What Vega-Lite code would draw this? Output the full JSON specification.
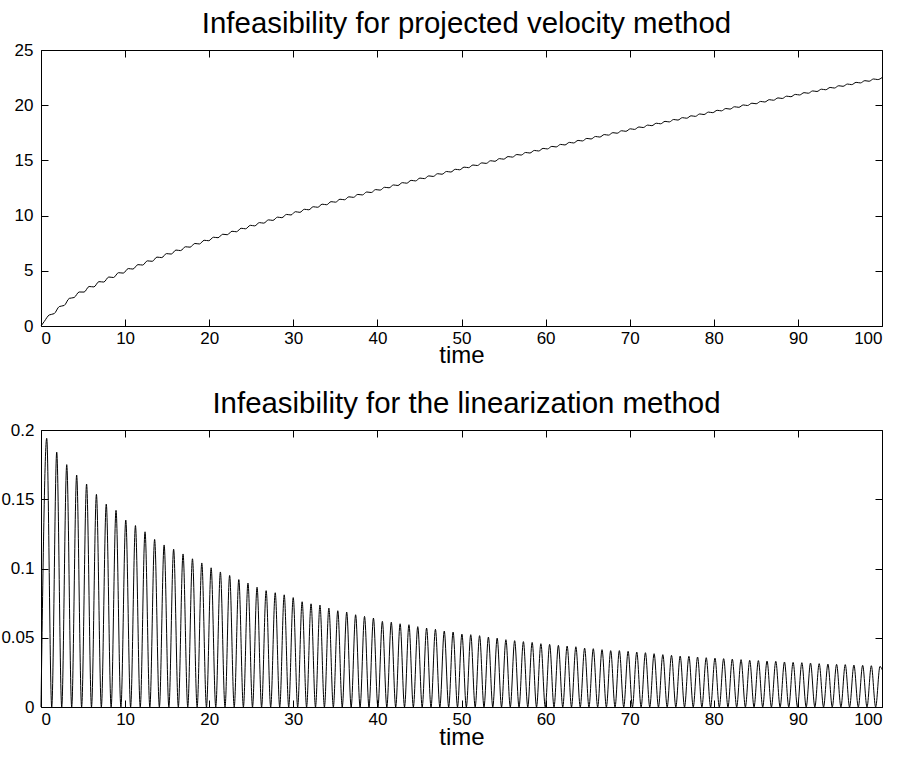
{
  "$schema": "https://vega.github.io/schema/vega-lite/v6.json",
  "padding": {"left": 0, "top": 8, "right": 5, "bottom": 5},
  "spacing": 104,
  "bounds": "flush",
  "background": "white",
  "config": {
    "view": {"stroke": "black", "strokeWidth": 1},
    "font": "Liberation Sans",
    "axis": {"grid": false, "domain": false, "tickColor": "black", "tickSize": -7, "labelColor": "black", "labelFontSize": 17, "labelFont": "Liberation Sans", "titleColor": "black", "titleFontSize": 24, "titleFontWeight": "normal", "titleFont": "Liberation Sans"},
    "title": {"fontSize": 29.4, "fontWeight": "normal", "color": "black", "font": "Liberation Sans", "baseline": "alphabetic", "offset": 2, "anchor": "middle", "dx": 5}
  },
  "vconcat": [
    {
      "width": 841,
      "height": 276,
      "title": "Infeasibility for projected velocity method",
      "data": {"values": [
        {"t":0,"v":0},{"t":0.38,"v":0.4},{"t":0.98,"v":1.0},{"t":1.57,"v":1.12},{"t":2.17,"v":1.76},{"t":2.76,"v":1.86},{"t":3.36,"v":2.5},{"t":3.94,"v":2.58},{"t":4.54,"v":3.08},
        {"t":5.12,"v":3.073},{"t":5.72,"v":3.577},{"t":6.29,"v":3.542},{"t":6.89,"v":4.018},{"t":7.46,"v":3.982},{"t":8.06,"v":4.436},{"t":8.62,"v":4.393},{"t":9.22,"v":4.829},
        {"t":9.78,"v":4.792},{"t":10.38,"v":5.2},{"t":10.93,"v":5.158},{"t":11.53,"v":5.558},{"t":12.09,"v":5.522},{"t":12.65,"v":5.9},{"t":13.23,"v":5.861},{"t":13.79,"v":6.239},
        {"t":14.36,"v":6.197},{"t":14.92,"v":6.557},{"t":15.49,"v":6.517},{"t":16.05,"v":6.877},{"t":16.61,"v":6.831},{"t":17.17,"v":7.177},{"t":17.73,"v":7.141},{"t":18.29,"v":7.475},
        {"t":18.84,"v":7.431},{"t":19.4,"v":7.763},{"t":19.95,"v":7.726},{"t":20.51,"v":8.04},{"t":21.05,"v":7.997},{"t":21.61,"v":8.311},{"t":22.15,"v":8.268},{"t":22.71,"v":8.582},
        {"t":23.24,"v":8.536},{"t":23.8,"v":8.85},{"t":24.33,"v":8.805},{"t":24.89,"v":9.119},{"t":25.41,"v":9.07},{"t":25.97,"v":9.364},{"t":26.49,"v":9.318},{"t":27.05,"v":9.612},
        {"t":27.57,"v":9.566},{"t":28.13,"v":9.86},{"t":28.64,"v":9.812},{"t":29.2,"v":10.106},{"t":29.73,"v":10.058},{"t":30.25,"v":10.352},{"t":30.79,"v":10.296},{"t":31.31,"v":10.572},
        {"t":31.85,"v":10.526},{"t":32.37,"v":10.802},{"t":32.91,"v":10.756},{"t":33.43,"v":11.032},{"t":33.97,"v":10.985},{"t":34.49,"v":11.261},{"t":35.03,"v":11.217},{"t":35.55,"v":11.483},
        {"t":36.09,"v":11.435},{"t":36.61,"v":11.701},{"t":37.15,"v":11.653},{"t":37.67,"v":11.919},{"t":38.21,"v":11.872},{"t":38.73,"v":12.138},{"t":39.27,"v":12.09},{"t":39.79,"v":12.356},
        {"t":40.33,"v":12.309},{"t":40.85,"v":12.565},{"t":41.39,"v":12.519},{"t":41.91,"v":12.775},{"t":42.44,"v":12.727},{"t":42.96,"v":12.983},{"t":43.49,"v":12.935},{"t":44.01,"v":13.191},
        {"t":44.54,"v":13.142},{"t":45.06,"v":13.398},{"t":45.59,"v":13.348},{"t":46.11,"v":13.596},{"t":46.64,"v":13.547},{"t":47.16,"v":13.795},{"t":47.69,"v":13.747},{"t":48.21,"v":13.995},
        {"t":48.74,"v":13.946},{"t":49.26,"v":14.194},{"t":49.79,"v":14.149},{"t":50.31,"v":14.389},{"t":50.84,"v":14.342},{"t":51.36,"v":14.582},{"t":51.89,"v":14.536},{"t":52.41,"v":14.776},
        {"t":52.94,"v":14.729},{"t":53.46,"v":14.969},{"t":53.98,"v":14.92},{"t":54.5,"v":15.16},{"t":55.02,"v":15.113},{"t":55.54,"v":15.347},{"t":56.06,"v":15.298},{"t":56.58,"v":15.532},
        {"t":57.1,"v":15.483},{"t":57.62,"v":15.717},{"t":58.14,"v":15.668},{"t":58.66,"v":15.902},{"t":59.18,"v":15.853},{"t":59.7,"v":16.087},{"t":60.22,"v":16.039},{"t":60.74,"v":16.269},
        {"t":61.26,"v":16.219},{"t":61.78,"v":16.449},{"t":62.3,"v":16.4},{"t":62.82,"v":16.63},{"t":63.34,"v":16.581},{"t":63.86,"v":16.811},{"t":64.38,"v":16.762},{"t":64.9,"v":16.992},
        {"t":65.41,"v":16.941},{"t":65.93,"v":17.165},{"t":66.45,"v":17.115},{"t":66.97,"v":17.339},{"t":67.48,"v":17.288},{"t":68.0,"v":17.512},{"t":68.51,"v":17.461},{"t":69.03,"v":17.685},
        {"t":69.55,"v":17.636},{"t":70.07,"v":17.86},{"t":70.58,"v":17.808},{"t":71.1,"v":18.028},{"t":71.61,"v":17.977},{"t":72.13,"v":18.197},{"t":72.64,"v":18.146},{"t":73.16,"v":18.366},
        {"t":73.68,"v":18.316},{"t":74.2,"v":18.536},{"t":74.71,"v":18.485},{"t":75.23,"v":18.705},{"t":75.74,"v":18.653},{"t":76.26,"v":18.871},{"t":76.78,"v":18.821},{"t":77.3,"v":19.039},
        {"t":77.81,"v":18.988},{"t":78.33,"v":19.206},{"t":78.84,"v":19.155},{"t":79.36,"v":19.373},{"t":79.88,"v":19.326},{"t":80.4,"v":19.538},{"t":80.91,"v":19.487},{"t":81.43,"v":19.699},
        {"t":81.94,"v":19.647},{"t":82.46,"v":19.859},{"t":82.98,"v":19.809},{"t":83.5,"v":20.021},{"t":84.01,"v":19.97},{"t":84.53,"v":20.182},{"t":85.04,"v":20.131},{"t":85.56,"v":20.341},
        {"t":86.07,"v":20.29},{"t":86.59,"v":20.5},{"t":87.11,"v":20.45},{"t":87.63,"v":20.66},{"t":88.14,"v":20.609},{"t":88.66,"v":20.819},{"t":89.17,"v":20.767},{"t":89.69,"v":20.977},
        {"t":90.21,"v":20.927},{"t":90.73,"v":21.135},{"t":91.24,"v":21.084},{"t":91.76,"v":21.292},{"t":92.27,"v":21.241},{"t":92.79,"v":21.449},{"t":93.31,"v":21.399},{"t":93.83,"v":21.607},
        {"t":94.34,"v":21.555},{"t":94.86,"v":21.763},{"t":95.37,"v":21.711},{"t":95.89,"v":21.915},{"t":96.4,"v":21.864},{"t":96.92,"v":22.068},{"t":97.44,"v":22.018},{"t":97.96,"v":22.222},
        {"t":98.47,"v":22.17},{"t":98.99,"v":22.374},{"t":99.5,"v":22.322},{"t":100,"v":22.5}
      ]},
      "layer": [
        {
          "mark": {"type": "line", "color": "black", "strokeWidth": 1, "interpolate": "monotone"},
          "encoding": {
            "x": {"field": "t", "type": "quantitative", "scale": {"domain": [0, 100], "nice": false, "zero": false},
                  "axis": {"orient": "bottom", "values": [0,10,20,30,40,50,60,70,80,90,100], "title": "time", "labelPadding": 11, "titleY": 36, "titleBaseline": "alphabetic"}},
            "y": {"field": "v", "type": "quantitative", "scale": {"domain": [0, 25], "nice": false},
                  "axis": {"orient": "left", "values": [0,5,10,15,20,25], "title": null, "labelPadding": 15}}
          }
        },
        {
          "mark": {"type": "line", "opacity": 0},
          "encoding": {
            "x": {"field": "t", "type": "quantitative", "axis": {"orient": "top", "values": [0,10,20,30,40,50,60,70,80,90,100], "labels": false, "title": null}},
            "y": {"field": "v", "type": "quantitative", "axis": {"orient": "right", "values": [0,5,10,15,20,25], "labels": false, "title": null}}
          }
        }
      ],
      "resolve": {"axis": {"x": "independent", "y": "independent"}}
    },
    {
      "width": 841,
      "height": 277,
      "title": "Infeasibility for the linearization method",
      "data": {"values": [
        {"t":0,"v":0},{"t":0.68,"v":0.194},{"t":1.275,"v":0},{"t":1.87,"v":0.184},{"t":2.465,"v":0},{"t":3.06,"v":0.175},{"t":3.65,"v":0},{"t":4.24,"v":0.1675},{"t":4.83,"v":0},
        {"t":5.42,"v":0.161},{"t":6.005,"v":0},{"t":6.59,"v":0.1535},{"t":7.175,"v":0},{"t":7.76,"v":0.1465},{"t":8.34,"v":0},{"t":8.92,"v":0.142},{"t":9.5,"v":0},
        {"t":10.08,"v":0.135},{"t":10.655,"v":0},{"t":11.23,"v":0.131},{"t":11.8,"v":0},{"t":12.37,"v":0.1265},{"t":12.94,"v":0},{"t":13.51,"v":0.121},{"t":14.075,"v":0},
        {"t":14.64,"v":0.117},{"t":15.205,"v":0},{"t":15.77,"v":0.114},{"t":16.33,"v":0},{"t":16.89,"v":0.1105},{"t":17.45,"v":0},{"t":18.01,"v":0.107},{"t":18.565,"v":0},
        {"t":19.12,"v":0.104},{"t":19.675,"v":0},{"t":20.23,"v":0.1005},{"t":20.78,"v":0},{"t":21.33,"v":0.0975},{"t":21.88,"v":0},{"t":22.43,"v":0.095},{"t":22.975,"v":0},
        {"t":23.52,"v":0.092},{"t":24.065,"v":0},{"t":24.61,"v":0.0895},{"t":25.15,"v":0},{"t":25.69,"v":0.0865},{"t":26.23,"v":0},{"t":26.77,"v":0.084},{"t":27.31,"v":0},
        {"t":27.85,"v":0.0825},{"t":28.385,"v":0},{"t":28.92,"v":0.081},{"t":29.455,"v":0},{"t":29.99,"v":0.079},{"t":30.52,"v":0},{"t":31.05,"v":0.076},{"t":31.58,"v":0},
        {"t":32.11,"v":0.0745},{"t":32.64,"v":0},{"t":33.17,"v":0.0736},{"t":33.7,"v":0},{"t":34.23,"v":0.0714},{"t":34.76,"v":0},{"t":35.29,"v":0.0695},{"t":35.82,"v":0},
        {"t":36.35,"v":0.0685},{"t":36.88,"v":0},{"t":37.41,"v":0.0666},{"t":37.94,"v":0},{"t":38.47,"v":0.0654},{"t":39.0,"v":0},{"t":39.53,"v":0.0642},{"t":40.06,"v":0},
        {"t":40.59,"v":0.0618},{"t":41.12,"v":0},{"t":41.65,"v":0.0612},{"t":42.175,"v":0},{"t":42.7,"v":0.0601},{"t":43.225,"v":0},{"t":43.75,"v":0.0594},{"t":44.275,"v":0},
        {"t":44.8,"v":0.058},{"t":45.325,"v":0},{"t":45.85,"v":0.057},{"t":46.375,"v":0},{"t":46.9,"v":0.0561},{"t":47.425,"v":0},{"t":47.95,"v":0.0548},{"t":48.475,"v":0},
        {"t":49.0,"v":0.0541},{"t":49.525,"v":0},{"t":50.05,"v":0.0526},{"t":50.575,"v":0},{"t":51.1,"v":0.0522},{"t":51.625,"v":0},{"t":52.15,"v":0.0515},{"t":52.675,"v":0},
        {"t":53.2,"v":0.0505},{"t":53.72,"v":0},{"t":54.24,"v":0.0497},{"t":54.76,"v":0},{"t":55.28,"v":0.0486},{"t":55.8,"v":0},{"t":56.32,"v":0.0479},{"t":56.84,"v":0},
        {"t":57.36,"v":0.0472},{"t":57.88,"v":0},{"t":58.4,"v":0.0466},{"t":58.92,"v":0},{"t":59.44,"v":0.0457},{"t":59.96,"v":0},{"t":60.48,"v":0.0452},{"t":61.0,"v":0},
        {"t":61.52,"v":0.0445},{"t":62.04,"v":0},{"t":62.56,"v":0.044},{"t":63.08,"v":0},{"t":63.6,"v":0.0435},{"t":64.12,"v":0},{"t":64.64,"v":0.0425},{"t":65.155,"v":0},
        {"t":65.67,"v":0.0421},{"t":66.19,"v":0},{"t":66.71,"v":0.0414},{"t":67.225,"v":0},{"t":67.74,"v":0.0407},{"t":68.255,"v":0},{"t":68.77,"v":0.0407},{"t":69.29,"v":0},
        {"t":69.81,"v":0.0402},{"t":70.325,"v":0},{"t":70.84,"v":0.0397},{"t":71.355,"v":0},{"t":71.87,"v":0.0392},{"t":72.385,"v":0},{"t":72.9,"v":0.0385},{"t":73.42,"v":0},
        {"t":73.94,"v":0.0378},{"t":74.455,"v":0},{"t":74.97,"v":0.0373},{"t":75.485,"v":0},{"t":76.0,"v":0.0368},{"t":76.52,"v":0},{"t":77.04,"v":0.0366},{"t":77.555,"v":0},
        {"t":78.07,"v":0.0361},{"t":78.585,"v":0},{"t":79.1,"v":0.0356},{"t":79.62,"v":0},{"t":80.14,"v":0.0353},{"t":80.655,"v":0},{"t":81.17,"v":0.0349},{"t":81.685,"v":0},
        {"t":82.2,"v":0.0346},{"t":82.72,"v":0},{"t":83.24,"v":0.0342},{"t":83.755,"v":0},{"t":84.27,"v":0.0337},{"t":84.785,"v":0},{"t":85.3,"v":0.0335},{"t":85.815,"v":0},
        {"t":86.33,"v":0.0332},{"t":86.85,"v":0},{"t":87.37,"v":0.033},{"t":87.885,"v":0},{"t":88.4,"v":0.0325},{"t":88.915,"v":0},{"t":89.43,"v":0.0322},{"t":89.95,"v":0},
        {"t":90.47,"v":0.032},{"t":90.985,"v":0},{"t":91.5,"v":0.0317},{"t":92.015,"v":0},{"t":92.53,"v":0.0313},{"t":93.05,"v":0},{"t":93.57,"v":0.031},{"t":94.085,"v":0},
        {"t":94.6,"v":0.0308},{"t":95.115,"v":0},{"t":95.63,"v":0.0306},{"t":96.145,"v":0},{"t":96.66,"v":0.0303},{"t":97.18,"v":0},{"t":97.7,"v":0.0301},{"t":98.215,"v":0},
        {"t":98.73,"v":0.0298},{"t":99.245,"v":0},{"t":99.76,"v":0.0293},{"t":100,"v":0.027}
      ]},
      "layer": [
        {
          "mark": {"type": "line", "color": "black", "strokeWidth": 1, "interpolate": "monotone"},
          "encoding": {
            "x": {"field": "t", "type": "quantitative", "scale": {"domain": [0, 100], "nice": false, "zero": false},
                  "axis": {"orient": "bottom", "values": [0,10,20,30,40,50,60,70,80,90,100], "title": "time", "labelPadding": 11, "titleY": 37, "titleBaseline": "alphabetic"}},
            "y": {"field": "v", "type": "quantitative", "scale": {"domain": [0, 0.2], "nice": false},
                  "axis": {"orient": "left", "values": [0,0.05,0.1,0.15,0.2], "format": "~g", "title": null, "labelPadding": 14}}
          }
        },
        {
          "mark": {"type": "line", "opacity": 0},
          "encoding": {
            "x": {"field": "t", "type": "quantitative", "axis": {"orient": "top", "values": [0,10,20,30,40,50,60,70,80,90,100], "labels": false, "title": null}},
            "y": {"field": "v", "type": "quantitative", "axis": {"orient": "right", "values": [0,0.05,0.1,0.15,0.2], "labels": false, "title": null}}
          }
        }
      ],
      "resolve": {"axis": {"x": "independent", "y": "independent"}}
    }
  ]
}
